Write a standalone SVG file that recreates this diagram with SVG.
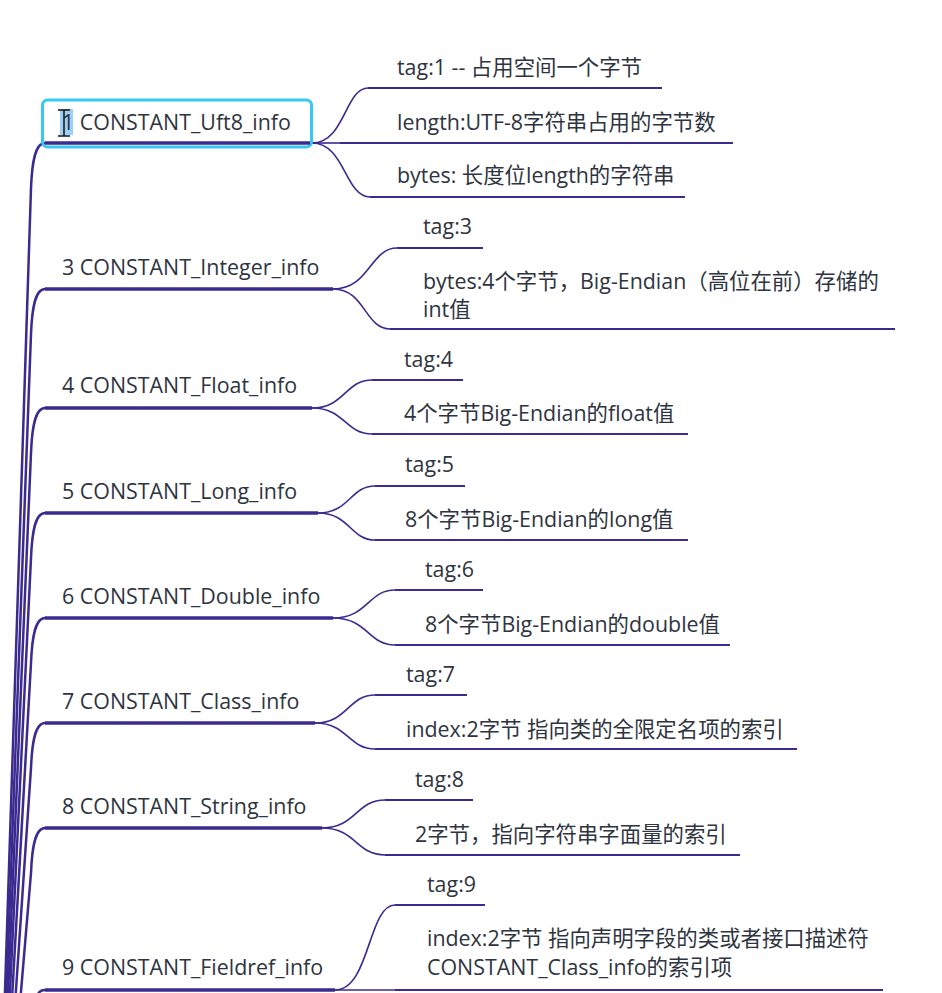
<svg xmlns="http://www.w3.org/2000/svg" width="942" height="993" viewBox="0 0 942 993">
<style>
.t{font-family:"Open Sans","Noto Sans","Noto Sans CJK SC",sans-serif;font-size:21.4px;fill:#2e3440}
.c{font-family:"Open Sans","Noto Sans","Noto Sans CJK SC",sans-serif;font-size:21.4px;fill:#2e3440}
.trunk{fill:none;stroke:#3b2a90;stroke-width:2.5}
.ul{stroke:#3b2a90;stroke-width:3.5;fill:none}
.br{fill:none;stroke:#3b2a90;stroke-width:1.6}
.cl{stroke:#3b2a90;stroke-width:2;fill:none}
</style>
<rect width="942" height="993" fill="#ffffff"/>
<g id="connectors">
<path class="trunk" d="M45 143 C35 143 32 163 31 188 L-5 1300"/>
<path class="trunk" d="M45 289 C35 289 32 309 31 334 L-5 1300"/>
<path class="trunk" d="M45 408 C35 408 32 428 31 453 L-5 1300"/>
<path class="trunk" d="M45 513 C35 513 32 533 31 558 L-5 1300"/>
<path class="trunk" d="M45 618 C35 618 32 638 31 663 L-5 1300"/>
<path class="trunk" d="M45 723 C35 723 32 743 31 768 L-5 1300"/>
<path class="trunk" d="M45 828 C35 828 32 848 31 873 L-5 1300"/>
<path class="trunk" d="M45 990 C38 990 36 995 35 1010"/>
<path class="br" d="M312 143 C345 143 345 88 368 88"/>
<path class="br" d="M312 143 L340 143"/>
<path class="br" d="M312 143 C345 143 345 197 370 197"/>
<path class="br" d="M333 289 C370 289 370 248 397 248"/>
<path class="br" d="M333 289 C365 289 365 329 390 329"/>
<path class="br" d="M312 408 C345 408 345 380 372 380"/>
<path class="br" d="M312 408 C345 408 345 434 372 434"/>
<path class="br" d="M318 513 C350 513 350 486 375 486"/>
<path class="br" d="M318 513 C350 513 350 540 375 540"/>
<path class="br" d="M333 618 C368 618 368 590 395 590"/>
<path class="br" d="M333 618 C368 618 368 645 395 645"/>
<path class="br" d="M315 723 C348 723 348 695 375 695"/>
<path class="br" d="M315 723 C348 723 348 749 375 749"/>
<path class="br" d="M322 828 C356 828 356 800 385 800"/>
<path class="br" d="M322 828 C356 828 356 855 385 855"/>
<path class="br" d="M335 990 C370 990 368 905 395 905"/>
<path class="br" d="M335 990 L395 990"/>
</g>
<g id="node1">
<rect x="42.5" y="100" width="269" height="47" rx="5" fill="none" stroke="#38c8f4" stroke-width="3"/>
<rect x="60" y="109" width="13" height="26" fill="#9ed0f7"/>
<line class="ul" x1="45" y1="143" x2="310" y2="143"/>
<text class="t" x="62" y="130">1 CONSTANT_Uft8_info</text>
<path d="M58 110 H70 M64 110 V136 M58 136 H70" stroke="#111" stroke-width="1.5" fill="none"/>
</g>
<g id="node1-c1"><text class="c" x="397" y="75">tag:1 -- 占用空间一个字节</text><line class="cl" x1="368" y1="88" x2="662" y2="88"/></g>
<g id="node1-c2"><text class="c" x="397" y="130">length:UTF-8字符串占用的字节数</text><line class="cl" x1="340" y1="143" x2="733" y2="143"/></g>
<g id="node1-c3"><text class="c" x="397" y="183">bytes: 长度位length的字符串</text><line class="cl" x1="370" y1="197" x2="685" y2="197"/></g>
<g id="node3">
<line class="ul" x1="45" y1="289" x2="333" y2="289"/>
<text class="t" x="62" y="275">3 CONSTANT_Integer_info</text>
</g>
<g id="node3-c1"><text class="c" x="423" y="234">tag:3</text><line class="cl" x1="397" y1="248" x2="483" y2="248"/></g>
<g id="node3-c2"><text class="c" x="423" y="289">bytes:4个字节，Big-Endian（高位在前）存储的</text><text class="c" x="423" y="317">int值</text><line class="cl" x1="390" y1="329" x2="895" y2="329"/></g>
<g id="node4">
<line class="ul" x1="45" y1="408" x2="312" y2="408"/>
<text class="t" x="62" y="393">4 CONSTANT_Float_info</text>
</g>
<g id="node4-c1"><text class="c" x="404" y="367">tag:4</text><line class="cl" x1="372" y1="380" x2="463" y2="380"/></g>
<g id="node4-c2"><text class="c" x="404" y="421">4个字节Big-Endian的float值</text><line class="cl" x1="372" y1="434" x2="688" y2="434"/></g>
<g id="node5">
<line class="ul" x1="45" y1="513" x2="318" y2="513"/>
<text class="t" x="62" y="499">5 CONSTANT_Long_info</text>
</g>
<g id="node5-c1"><text class="c" x="405" y="472">tag:5</text><line class="cl" x1="375" y1="486" x2="465" y2="486"/></g>
<g id="node5-c2"><text class="c" x="405" y="527">8个字节Big-Endian的long值</text><line class="cl" x1="375" y1="540" x2="688" y2="540"/></g>
<g id="node6">
<line class="ul" x1="45" y1="618" x2="333" y2="618"/>
<text class="t" x="62" y="604">6 CONSTANT_Double_info</text>
</g>
<g id="node6-c1"><text class="c" x="425" y="577">tag:6</text><line class="cl" x1="395" y1="590" x2="483" y2="590"/></g>
<g id="node6-c2"><text class="c" x="425" y="632">8个字节Big-Endian的double值</text><line class="cl" x1="395" y1="645" x2="730" y2="645"/></g>
<g id="node7">
<line class="ul" x1="45" y1="723" x2="315" y2="723"/>
<text class="t" x="62" y="709">7 CONSTANT_Class_info</text>
</g>
<g id="node7-c1"><text class="c" x="406" y="682">tag:7</text><line class="cl" x1="375" y1="695" x2="467" y2="695"/></g>
<g id="node7-c2"><text class="c" x="406" y="737">index:2字节 指向类的全限定名项的索引</text><line class="cl" x1="375" y1="749" x2="797" y2="749"/></g>
<g id="node8">
<line class="ul" x1="45" y1="828" x2="322" y2="828"/>
<text class="t" x="62" y="814">8 CONSTANT_String_info</text>
</g>
<g id="node8-c1"><text class="c" x="415" y="787">tag:8</text><line class="cl" x1="385" y1="800" x2="473" y2="800"/></g>
<g id="node8-c2"><text class="c" x="415" y="842">2字节，指向字符串字面量的索引</text><line class="cl" x1="385" y1="855" x2="740" y2="855"/></g>
<g id="node9">
<line class="ul" x1="45" y1="990" x2="335" y2="990"/>
<text class="t" x="62" y="975">9 CONSTANT_Fieldref_info</text>
</g>
<g id="node9-c1"><text class="c" x="427" y="892">tag:9</text><line class="cl" x1="395" y1="905" x2="485" y2="905"/></g>
<g id="node9-c2"><text class="c" x="427" y="946">index:2字节 指向声明字段的类或者接口描述符</text><text class="c" x="427" y="975">CONSTANT_Class_info的索引项</text><line class="cl" x1="395" y1="990" x2="883" y2="990"/></g>
</svg>
